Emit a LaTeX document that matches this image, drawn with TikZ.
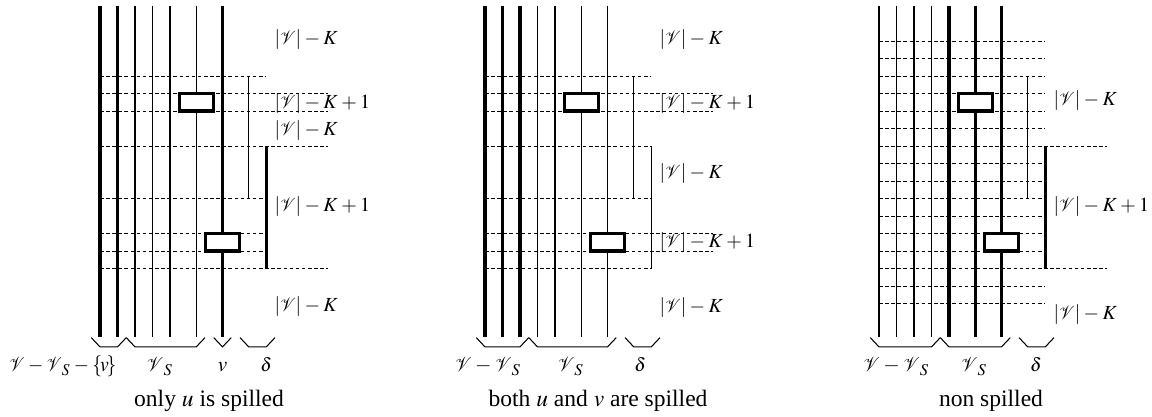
\documentclass[tikz,border=0pt]{standalone}
\usepackage{mathptmx}
\usepackage{graphicx}
\usepackage{fontspec}
\setmainfont{Liberation Serif}
\newcommand\cV{\mathord{\scalebox{0.87}[0.95]{$\mathcal{V}$}}}
\newcommand\rl[1]{{\fontsize{8.5}{10}\selectfont\medmuskip=3mu$|\cV|-K#1$}}
\newcommand\bl[1]{{\fontsize{9}{11}\selectfont\medmuskip=3mu$#1$}}
\newcommand\dl{{\fontsize{8}{10}\selectfont$\delta$}}
\tikzset{
  vthick/.style={line width=1.5pt},
  vthin/.style={line width=0.45pt},
  gridline/.style={line width=0.4pt, dash pattern=on 1.5pt off 1.1pt},
  brk/.style={line width=0.45pt},
  brkthick/.style={line width=1.3pt},
  regbox/.style={draw, fill=white, line width=1.3pt, inner sep=0pt,
                 minimum width=14.4pt, minimum height=7.44pt},
  lab/.style={anchor=west, inner sep=0pt},
  brc/.style={line width=0.45pt},
  blab/.style={anchor=base, inner sep=0pt},
  blabr/.style={anchor=base east, inner sep=0pt},
  panel/.style={x=7.4375pt, y=-7.4375pt}
}
\newcommand\ubr[2]{\draw[brc] (#1,18.95) -- ({#1+0.5},19.48) -- ({#2-0.5},19.48) -- (#2,18.95);}
\newcommand\vbr[2]{\draw[brc] (#1,18.95) -- ({(#1+#2)/2},19.48) -- (#2,18.95);}
\begin{document}
\begin{tikzpicture}[x=0.425pt, y=-0.425pt]
\useasboundingbox (0,0) rectangle (1152,416);

% ---------------- Panel 1 ----------------
\begin{scope}[shift={(100,6)}, panel]
  \foreach \r/\e in {4/9.45,5/13,6/13,8/13,11/9.45,13/9.45,14/9.45,15/13}
    \draw[gridline] (0,\r) -- (\e,\r);
  \foreach \c in {0,1,7} \draw[vthick] (\c,0) -- (\c,18.94);
  \foreach \c in {2,3,4,5.5} \draw[vthin] (\c,0) -- (\c,18.94);
  \draw[brk] (8.5,4) -- (8.5,11);
  \draw[brkthick] (9.5,8) -- (9.5,15);
  \node[regbox] (p1b1) at (5.5,5.5) {};
  \node[regbox] (p1b2) at (7,13.5) {};
  \node[lab] (p1l1) at (9.95,1.94) {\rl{}};
  \node[lab] (p1l2) at (9.95,5.6) {\rl{+1}};
  \node[lab] (p1l3) at (9.95,7.14) {\rl{}};
  \node[lab] (p1l4) at (9.95,11.49) {\rl{+1}};
  \node[lab] (p1l5) at (9.95,17.2) {\rl{}};
  \ubr{-0.5}{1.5}
  \ubr{1.5}{6}
  \vbr{6.5}{7.5}
  \ubr{8}{10}
  \node[blabr] (p1u1) at (0.97,20.91) {\resizebox{45.5pt}{\height}{\bl{\cV-\cV_S-\{\!v\!\}}}};
  \node[blab] (p1u2) at (3.43,20.91) {\bl{\cV_S}};
  \node[blab] (p1u3) at (7,20.91) {\bl{v}};
  \node[blab] (p1u4) at (9.49,20.91) {\dl};
  \node[blab] (p1cap) at (6.23,22.86) {only $u$ is spilled};
\end{scope}

% ---------------- Panel 2 ----------------
\begin{scope}[shift={(485,6)}, panel]
  \foreach \r/\e in {4/9.45,5/13,6/13,8/9.5,11/9.45,13/13,14/13,15/9.5}
    \draw[gridline] (0,\r) -- (\e,\r);
  \foreach \c in {0,1,2} \draw[vthick] (\c,0) -- (\c,18.94);
  \foreach \c in {3,4,5.5,7} \draw[vthin] (\c,0) -- (\c,18.94);
  \draw[brk] (8.5,4) -- (8.5,11);
  \draw[brk] (9.5,8) -- (9.5,15);
  \node[regbox] (p2b1) at (5.5,5.5) {};
  \node[regbox] (p2b2) at (7,13.5) {};
  \node[lab] (p2l1) at (9.95,1.94) {\rl{}};
  \node[lab] (p2l2) at (9.95,5.6) {\rl{+1}};
  \node[lab] (p2l3) at (9.95,9.6) {\rl{}};
  \node[lab] (p2l4) at (9.95,13.54) {\rl{+1}};
  \node[lab] (p2l5) at (9.95,17.26) {\rl{}};
  \ubr{-0.5}{2.5}
  \ubr{2.5}{7.5}
  \ubr{8}{10}
  \node[blabr] (p2u1) at (2.1,20.91) {\bl{\cV-\cV_S}};
  \node[blab] (p2u2) at (4.91,20.91) {\bl{\cV_S}};
  \node[blab] (p2u4) at (8.86,20.91) {\dl};
  \node[blab] (p2cap) at (6.46,22.86) {both $u$ and $v$ are spilled};
\end{scope}

% ---------------- Panel 3 ----------------
\begin{scope}[shift={(879,6)}, panel]
  \foreach \r/\e in {2/9.45,3/9.45,4/9.45,5/9.45,6/9.45,7/9.45,8/13,9/9.45,10/9.45,
                     11/9.45,12/9.45,13/9.45,14/9.45,15/13,16/9.45,17/9.45}
    \draw[gridline] (0,\r) -- (\e,\r);
  \foreach \c in {4,5.5,7} \draw[vthick] (\c,0) -- (\c,18.94);
  \foreach \c in {0,1,2,3} \draw[vthin] (\c,0) -- (\c,18.94);
  \draw[brk] (8.5,4) -- (8.5,11);
  \draw[brkthick] (9.5,8) -- (9.5,15);
  \node[regbox] (p3b1) at (5.5,5.5) {};
  \node[regbox] (p3b2) at (7,13.5) {};
  \node[lab] (p3l1) at (9.95,5.43) {\rl{}};
  \node[lab] (p3l2) at (9.95,11.49) {\rl{+1}};
  \node[lab] (p3l3) at (9.95,17.66) {\rl{}};
  \ubr{-0.5}{3.5}
  \ubr{3.5}{7.5}
  \ubr{8}{10}
  \node[blabr] (p3u1) at (2.91,20.91) {\bl{\cV-\cV_S}};
  \node[blab] (p3u2) at (5.43,20.91) {\bl{\cV_S}};
  \node[blab] (p3u4) at (8.97,20.91) {\dl};
  \node[blab] (p3cap) at (6.4,22.86) {non spilled};
\end{scope}
\end{tikzpicture}
\end{document}
